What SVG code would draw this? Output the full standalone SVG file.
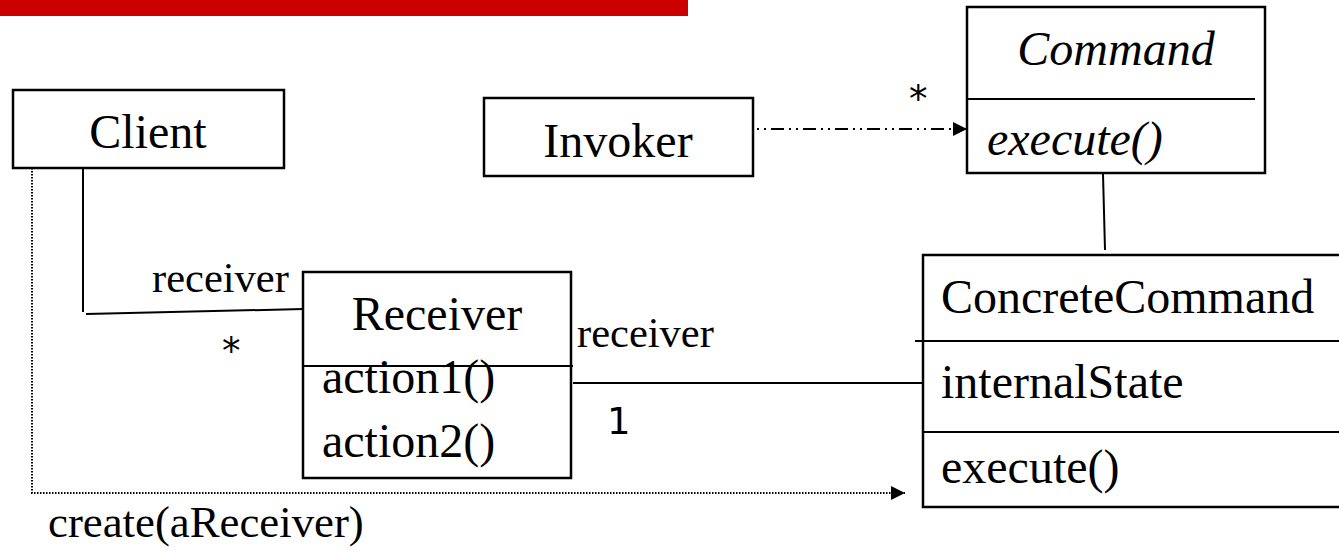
<svg xmlns="http://www.w3.org/2000/svg" width="1339" height="556" viewBox="0 0 1339 556">
<defs>
<style>
.box{fill:#fff;stroke:#000;stroke-width:2.5}
.ln{stroke:#000;stroke-width:2;fill:none}
.t{font-family:"Liberation Serif","Times New Roman",serif;font-size:48px;fill:#000}
.i{font-style:italic}
.lbl{font-family:"Liberation Serif","Times New Roman",serif;font-size:42.5px;fill:#000}
.s{font-family:"DejaVu Sans",sans-serif;font-size:37px;fill:#000}
</style>
<marker id="ah" viewBox="0 0 14 14" refX="14" refY="7" markerWidth="14" markerHeight="14" markerUnits="userSpaceOnUse" orient="auto">
<path d="M0,0 L14,7 L0,14 Z" fill="#000"/>
</marker>
</defs>
<rect x="0" y="0" width="688" height="16" fill="#cc0000"/>

<g id="connectors">
<path class="ln" d="M83,168 V312"/>
<path class="ln" d="M86,314 L303,309"/>
<path class="ln" d="M757,129 H967" stroke-dasharray="2 5 2 5 13 5" marker-end="url(#ah)"/>
<path class="ln" d="M1103,174 L1105,250"/>
<path class="ln" d="M573,383 H932"/>
<path d="M32,168 V493 H905" fill="none" stroke="#000" stroke-width="2" stroke-dasharray="1.5 1.5" marker-end="url(#ah)"/>
<text class="lbl" x="152" y="292">receiver</text>
<text class="s" x="222" y="364">*</text>
<text class="s" x="909" y="112">*</text>
<text class="lbl" x="577" y="347">receiver</text>
<text class="s" x="607" y="434">1</text>
<text class="lbl" x="48" y="537" style="font-size:44.8px">create(aReceiver)</text>
</g>

<g id="client">
<rect class="box" x="13" y="90" width="271" height="78"/>
<text class="t" x="148" y="148" text-anchor="middle">Client</text>
</g>

<g id="invoker">
<rect class="box" x="484" y="98" width="269" height="78"/>
<text class="t" x="618" y="157" text-anchor="middle">Invoker</text>
</g>

<g id="command">
<rect class="box" x="967" y="7" width="298" height="166"/>
<path class="ln" d="M967,99 H1255"/>
<text class="t i" x="1116" y="65" text-anchor="middle">Command</text>
<text class="t i" x="987" y="155">execute()</text>
</g>

<g id="receiver">
<rect class="box" x="303" y="272" width="268" height="206"/>
<path class="ln" d="M303,366 H573"/>
<text class="t" x="437" y="330" text-anchor="middle">Receiver</text>
<text class="t" x="322" y="393">action1()</text>
<text class="t" x="322" y="457">action2()</text>
</g>

<g id="concretecommand">
<rect class="box" x="923" y="255" width="430" height="252"/>
<path class="ln" d="M915,341 H1339"/>
<path class="ln" d="M923,432 H1339"/>
<text class="t" x="941" y="313">ConcreteCommand</text>
<text class="t" x="941" y="398">internalState</text>
<text class="t" x="941" y="483">execute()</text>
</g>
</svg>
